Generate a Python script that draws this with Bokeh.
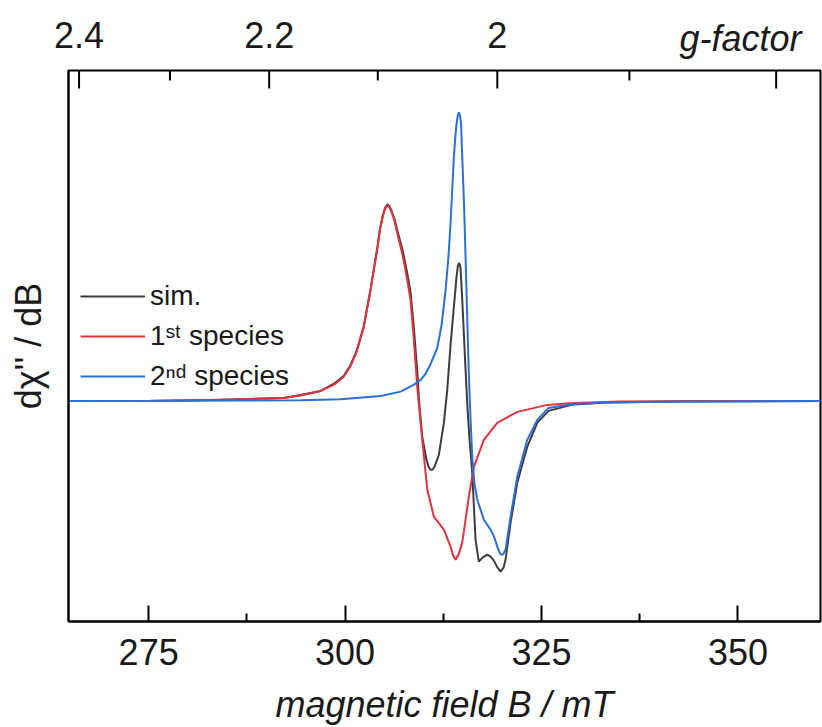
from bokeh.plotting import figure
from bokeh.models import Range1d, LinearAxis, FixedTicker, Legend, LegendItem
from bokeh.embed import file_html
from bokeh.resources import INLINE

# ---------------- data ----------------
# magnetic field in mT, intensity in arbitrary units
sim_B = [264.82, 275.25, 283.02, 287.98, 292.18, 294.34, 296.88, 298.54, 299.81, 300.70,
         301.46, 302.35, 303.24, 304.13, 304.45, 304.77, 305.07, 305.37, 305.65, 305.92,
         306.30, 306.64, 307.32, 307.91, 308.33, 308.72, 309.19, 309.40, 309.82, 310.36,
         310.62, 310.87, 311.12, 311.38, 311.93, 312.57, 313.00, 313.42, 313.84, 314.19,
         314.35, 314.48, 314.60, 314.69, 314.91, 315.33, 315.59, 315.84, 316.18, 316.60,
         317.02, 317.49, 318.09, 318.51, 318.93, 319.40, 319.78, 320.17, 320.42, 321.06,
         321.91, 323.18, 324.45, 325.89, 329.07, 333.36, 342.65, 360.50]
sim_I = [0.00, 0.00, 0.01, 0.02, 0.03, 0.06, 0.10, 0.17, 0.25, 0.36,
         0.50, 0.74, 1.12, 1.55, 1.73, 1.85, 1.93, 1.97, 1.95, 1.90,
         1.82, 1.71, 1.51, 1.28, 1.09, 0.76, 0.29, 0.01, -0.36, -0.59,
         -0.66, -0.69, -0.69, -0.66, -0.54, -0.22, 0.11, 0.56, 0.94, 1.25,
         1.35, 1.38, 1.37, 1.33, 1.01, 0.31, -0.09, -0.39, -0.72, -1.39,
         -1.61, -1.57, -1.54, -1.56, -1.60, -1.67, -1.71, -1.67, -1.59, -1.22,
         -0.82, -0.46, -0.22, -0.10, -0.035, -0.017, -0.007, 0.00]

sp1_B = [264.82, 275.25, 283.02, 287.98, 292.18, 294.34, 296.88, 298.54, 299.81, 300.70,
         301.46, 302.35, 303.24, 304.13, 304.45, 304.77, 305.07, 305.37, 305.65, 305.92,
         306.30, 306.64, 307.32, 307.91, 308.33, 308.72, 309.19, 309.82, 310.46, 311.30,
         312.57, 313.42, 313.75, 314.06, 314.44, 314.91, 315.75, 316.39, 317.66, 319.36,
         321.91, 325.73, 329.07, 335.05, 345.23, 360.50]
sp1_I = [0.00, 0.00, 0.01, 0.02, 0.03, 0.055, 0.10, 0.16, 0.24, 0.35,
         0.49, 0.73, 1.11, 1.54, 1.72, 1.84, 1.92, 1.96, 1.94, 1.89,
         1.80, 1.68, 1.46, 1.21, 1.01, 0.64, 0.13, -0.39, -0.89, -1.16,
         -1.29, -1.46, -1.55, -1.59, -1.54, -1.42, -0.96, -0.66, -0.39, -0.22,
         -0.11, -0.04, -0.02, -0.005, 0.00, 0.00]

sp2_B = [264.82, 275.25, 287.98, 294.34, 299.43, 304.52, 307.06, 308.72, 309.61, 310.24,
         310.88, 311.73, 312.28, 312.79, 313.17, 313.42, 313.84, 314.02, 314.19, 314.34,
         314.48, 314.62, 314.76, 314.91, 315.14, 315.33, 315.55, 315.75, 315.97, 316.18,
         316.48, 316.82, 317.66, 318.51, 318.96, 319.36, 319.78, 320.10, 320.42, 321.06,
         321.91, 323.18, 324.45, 325.89, 329.07, 333.36, 342.65, 360.50]
sp2_I = [0.00, 0.001, 0.004, 0.007, 0.017, 0.05, 0.093, 0.16, 0.21, 0.27,
         0.37, 0.53, 0.76, 1.11, 1.46, 1.78, 2.44, 2.64, 2.78, 2.86,
         2.89, 2.86, 2.77, 2.44, 1.96, 1.44, 0.81, 0.26, -0.19, -0.56,
         -0.84, -0.99, -1.19, -1.29, -1.36, -1.46, -1.54, -1.54, -1.49, -1.16,
         -0.76, -0.39, -0.19, -0.07, -0.03, -0.017, -0.007, 0.00]

series_labels = ["sim.", "1\u02e2\u1d57 species", "2\u207f\u1d48 species"]
series_colors = ["#3c3c3c", "#e0353f", "#2b70d8"]

x_ticks = [275, 300, 325, 350]
x_minor = [287.5, 312.5, 337.5]

freq_GHz = 8.94          # microwave frequency used for the g-factor scale
g_major = [2.4, 2.2, 2.0, 1.8]
g_minor = [2.3, 2.1, 1.9]
g_labeled = [2.4, 2.2, 2.0]
g_labels = ["2.4", "2.2", "2"]
g_title = "g-factor"

FONT = "Liberation Sans"
TXT = "#1a1a1a"

X_RANGE = (264.8, 360.5)
Y_RANGE = (-2.21, 3.31)
FRAME_H = 552            # px height of the plotting frame
MAJOR_PX, MINOR_PX = 18, 10
CAPTION_PAD = "\u00a0" * 16  # keeps the end-aligned caption inside the page

def g_to_B(g):
    return 71.4477 * freq_GHz / g

# ---------------- figure ----------------
p = figure(width=822, height=727,
           x_range=Range1d(*X_RANGE), y_range=Range1d(*Y_RANGE),
           output_backend="svg", toolbar_location=None,
           min_border_left=68, min_border_right=2, min_border_top=70, min_border_bottom=105)
p.xgrid.visible = False
p.ygrid.visible = False
p.outline_line_color = "black"
p.outline_line_width = 2
p.outline_line_alpha = 1.0
p.background_fill_color = "white"
p.border_fill_color = "white"

r_sim = p.line(sim_B, sim_I, line_color=series_colors[0], line_width=2)
r_sp1 = p.line(sp1_B, sp1_I, line_color=series_colors[1], line_width=2)
r_sp2 = p.line(sp2_B, sp2_I, line_color=series_colors[2], line_width=2)

# bottom axis
xa = p.xaxis[0]
xa.ticker = FixedTicker(ticks=x_ticks, minor_ticks=x_minor)
xa.axis_label = "magnetic field B / mT"
xa.axis_label_text_font = FONT
xa.axis_label_text_font_style = "italic"
xa.axis_label_text_font_size = "36px"
xa.axis_label_text_color = TXT
xa.axis_label_standoff = 16
xa.major_label_text_font = FONT
xa.major_label_text_font_size = "36px"
xa.major_label_text_color = TXT
xa.major_label_standoff = 17
xa.major_tick_in = 16
xa.major_tick_out = 0
xa.minor_tick_in = 8
xa.minor_tick_out = 0
xa.axis_line_width = 2
xa.major_tick_line_width = 2
xa.minor_tick_line_width = 2

# left axis (no ticks)
ya = p.yaxis[0]
ya.ticker = FixedTicker(ticks=[], minor_ticks=[])
ya.axis_label = "d\u03c7'' / dB"
ya.axis_label_text_font = FONT
ya.axis_label_text_font_style = "normal"
ya.axis_label_text_font_size = "36px"
ya.axis_label_text_color = TXT
ya.axis_label_standoff = 20
ya.major_label_standoff = 0
ya.major_tick_in = 0
ya.major_tick_out = 0
ya.axis_line_width = 2

# top g-factor tick marks, drawn inward from the top edge of the frame
unit_per_px = (Y_RANGE[1] - Y_RANGE[0]) / FRAME_H
gB_major = [g_to_B(g) for g in g_major]
gB_minor = [g_to_B(g) for g in g_minor]
p.segment(x0=gB_major, x1=gB_major, y0=[Y_RANGE[1]] * len(gB_major),
          y1=[Y_RANGE[1] - MAJOR_PX * unit_per_px] * len(gB_major),
          line_color="black", line_width=2)
p.segment(x0=gB_minor, x1=gB_minor, y0=[Y_RANGE[1]] * len(gB_minor),
          y1=[Y_RANGE[1] - MINOR_PX * unit_per_px] * len(gB_minor),
          line_color="black", line_width=2)

# top g-factor axis: labels plus the italic caption at its right end
lab_pos = [g_to_B(g) for g in g_labeled]
top_labels = LinearAxis(ticker=FixedTicker(ticks=lab_pos, minor_ticks=[]),
                        major_label_overrides={b: t for b, t in zip(lab_pos, g_labels)},
                        major_label_text_font=FONT, major_label_text_font_size="36px",
                        major_label_text_color=TXT, major_label_standoff=23,
                        major_tick_in=0, major_tick_out=0, minor_tick_in=0, minor_tick_out=0,
                        axis_line_color=None, major_tick_line_color=None,
                        minor_tick_line_color=None,
                        axis_label=g_title + CAPTION_PAD, axis_label_align="end",
                        axis_label_standoff=-40, axis_label_text_font=FONT,
                        axis_label_text_font_style="italic",
                        axis_label_text_font_size="36px", axis_label_text_color=TXT)
p.add_layout(top_labels, "above")

legend = Legend(items=[LegendItem(label=series_labels[0], renderers=[r_sim]),
                       LegendItem(label=series_labels[1], renderers=[r_sp1]),
                       LegendItem(label=series_labels[2], renderers=[r_sp2])],
                location=(12, 225), glyph_width=65, glyph_height=40, label_height=40,
                spacing=0, padding=0, margin=0, border_line_color=None,
                background_fill_alpha=0, label_text_font=FONT,
                label_text_font_size="28px", label_text_color=TXT,
                label_standoff=5)
p.add_layout(legend)

open("out.html", "w").write(file_html(p, INLINE))
